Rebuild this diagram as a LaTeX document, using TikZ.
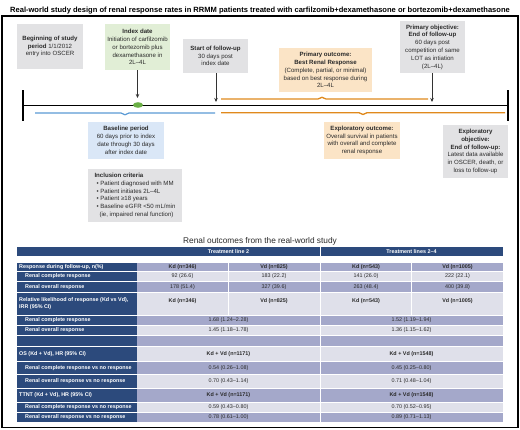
\documentclass[tikz,border=0pt]{standalone}
\usepackage{fontspec}
\setmainfont{Liberation Sans}
\usetikzlibrary{arrows.meta}
\definecolor{boxgray}{HTML}{E2E2E4}
\definecolor{boxgreen}{HTML}{E1EED6}
\definecolor{boxorange}{HTML}{FBE4C6}
\definecolor{boxblue}{HTML}{DAE7F7}
\definecolor{navy}{HTML}{2C4A7C}
\definecolor{tmed}{HTML}{A4A8CA}
\definecolor{tlight}{HTML}{DFE0EA}
\definecolor{lineblue}{HTML}{5B9BD5}
\definecolor{lineorange}{HTML}{E0891C}
\definecolor{ptgreen}{HTML}{6AAF45}
\definecolor{txt}{HTML}{2A2A2A}
\begin{document}
\begin{tikzpicture}[x=1pt,y=-1pt,
  infobox/.style={inner sep=0pt, align=center, text=txt, font=\fontsize{6.1}{7.8}\selectfont},
  arr/.style={-{Stealth[length=4pt,width=3.5pt]}, line width=0.8pt, draw=black!80},
  lbl/.style={anchor=west, inner sep=0pt, text=white, font=\fontsize{5.4}{6.2}\bfseries\selectfont, align=left},
  val/.style={inner sep=0pt, text=txt, font=\fontsize{5.4}{6.2}\selectfont},
  valb/.style={val, font=\fontsize{5.4}{6.2}\bfseries\selectfont},
  hdr/.style={inner sep=0pt, text=white, font=\fontsize{5.4}{6.2}\bfseries\selectfont}]
\useasboundingbox (0,0) rectangle (520,429);
\fill[white] (0,0) rectangle (520,429);
\draw[line width=1.2pt] (2,16) rectangle (518,427.5);
\node[font=\fontsize{7.55}{8.5}\bfseries\selectfont] (title) at (260,10.5) {Real-world study design of renal response rates in RRMM patients treated with carfilzomib+dexamethasone or bortezomib+dexamethasone};

% timeline
\coordinate (tl) at (23,105);
\coordinate (tr) at (508,105);
\draw[line width=1pt] (tl) -- (tr);
\draw[line width=1.2pt] (23,90) -- (23,121);
\draw[line width=1.2pt] (508,90) -- (508,121);
\fill[ptgreen] (138,105) ellipse [x radius=5, y radius=2.8];
\draw[lineblue, line width=1.2pt] (35,113) -- (121,113) -- (125,114.8) -- (129,113) -- (215,113);
\draw[lineorange, line width=1.3pt] (221,99) -- (318,99) -- (322,97.3) -- (326,99) -- (428,99);
\draw[lineorange, line width=1.3pt] (221,112.7) -- (359,112.7) -- (363,114.5) -- (367,112.7) -- (505,112.7);

% top boxes
\node[infobox, fill=boxgray, minimum width=66pt, minimum height=45pt] (begin) at (50,46.5)
 {\textbf{Beginning of study}\\\textbf{period} 1/1/2012\\entry into OSCER};
\node[infobox, fill=boxgreen, minimum width=65pt, minimum height=46pt] (index) at (137.5,47)
 {\textbf{Index date}\\Initiation of carfilzomib\\or bortezomib plus\\dexamethasone in\\2L–4L};
\node[infobox, fill=boxgray, minimum width=65pt, minimum height=34pt] (start) at (215.5,56)
 {\textbf{Start of follow-up}\\30 days post\\index date};
\node[infobox, fill=boxorange, minimum width=93pt, minimum height=44pt] (pout) at (325.5,70)
 {\textbf{Primary outcome:}\\\textbf{Best Renal Response}\\(Complete, partial, or minimal)\\based on best response during\\2L–4L};
\node[infobox, fill=boxgray, minimum width=65pt, minimum height=52pt] (pobj) at (432.5,47)
 {\textbf{Primary objective:}\\\textbf{End of follow-up}\\60 days post\\competition of same\\LOT as intiation\\(2L–4L)};

% bottom boxes
\node[infobox, fill=boxblue, minimum width=76pt, minimum height=37pt] (base) at (126,140.5)
 {\textbf{Baseline period}\\60 days prior to index\\date through 30 days\\after index date};
\node[infobox, fill=boxgray, minimum width=94pt, minimum height=53pt, align=left] (incl) at (135,195.5)
 {\textbf{Inclusion criteria}\\[-0.3pt]
 \hspace*{2pt}• Patient diagnosed with MM\\
 \hspace*{2pt}• Patient initiates 2L–4L\\
 \hspace*{2pt}• Patient ≥18 years\\
 \hspace*{2pt}• Baseline eGFR <50 mL/min\\
 \hspace*{5pt}(ie, impaired renal function)};
\node[infobox, fill=boxorange, minimum width=76pt, minimum height=37pt] (eout) at (362,140.5)
 {\textbf{Exploratory outcome:}\\Overall survival in patients\\with overall and complete\\renal response};
\node[infobox, fill=boxgray, minimum width=65pt, minimum height=53pt] (eobj) at (475.5,151.5)
 {\textbf{Exploratory}\\\textbf{objective:}\\\textbf{End of follow-up:}\\Latest data available\\in OSCER, death, or\\loss to follow-up};

% arrows
\coordinate (aidx) at (137.5,98);
\coordinate (astart) at (216,102);
\coordinate (aobj) at (432,102);
\draw[arr] (index.south) -- (aidx);
\draw[arr] (start.south -| astart) -- (astart);
\draw[arr] (pobj.south -| aobj) -- (aobj);

% table
\node[font=\fontsize{8.3}{9.5}\selectfont, text=txt] (ttitle) at (260,241) {Renal outcomes from the real-world study};
\fill[navy] (17,247) rectangle (136.5,256);
\fill[navy] (137,247) rectangle (319.5,256);
\fill[navy] (320.5,247) rectangle (503,256);
\node[hdr] (h2) at (228.5,251.5) {Treatment line 2};
\node[hdr] (h24) at (411.5,251.5) {Treatment lines 2–4};

% rows with four cells
\foreach \ya/\yb/\c in {262/271.5/tmed, 271.5/281.5/tlight, 281.5/292/tmed, 292/315.5/tlight}{
  \fill[navy] (17,\ya+0.5) rectangle (136.5,\yb-0.5);
  \fill[\c] (137,\ya+0.5) rectangle (227.8,\yb-0.5);
  \fill[\c] (228.8,\ya+0.5) rectangle (319.5,\yb-0.5);
  \fill[\c] (320.5,\ya+0.5) rectangle (411.2,\yb-0.5);
  \fill[\c] (412.2,\ya+0.5) rectangle (503,\yb-0.5);
}
% rows with merged cells
\foreach \ya/\yb/\c in {315.5/325.5/tmed, 325.5/335.5/tlight, 335.5/346/tmed, 346/361.5/tlight, 361.5/374.5/tmed, 374.5/388/tlight, 388/402/tmed, 402/412/tlight, 412/422/tmed}{
  \fill[navy] (17,\ya+0.5) rectangle (136.5,\yb-0.5);
  \fill[\c] (137,\ya+0.5) rectangle (319.5,\yb-0.5);
  \fill[\c] (320.5,\ya+0.5) rectangle (503,\yb-0.5);
}

% row 1
\node[lbl] (r1a) at (19,266.7) {Response during follow-up, n(\%)};
\node[valb] (r1b) at (182.5,266.7) {Kd (n=346)};
\node[valb] (r1c) at (274,266.7) {Vd (n=825)};
\node[valb] (r1d) at (366,266.7) {Kd (n=543)};
\node[valb] (r1e) at (457.5,266.7) {Vd (n=1005)};
% row 2
\node[lbl] (r2a) at (25,276.5) {Renal complete response};
\node[val] (r2b) at (182.5,276.5) {92 (26.6)};
\node[val] (r2c) at (274,276.5) {183 (22.2)};
\node[val] (r2d) at (366,276.5) {141 (26.0)};
\node[val] (r2e) at (457.5,276.5) {222 (22.1)};
% row 3
\node[lbl] (r3a) at (25,286.7) {Renal overall response};
\node[val] (r3b) at (182.5,286.7) {178 (51.4)};
\node[val] (r3c) at (274,286.7) {327 (39.6)};
\node[val] (r3d) at (366,286.7) {263 (48.4)};
\node[val] (r3e) at (457.5,286.7) {400 (39.8)};
% row 4
\node[lbl, anchor=north west] (r4a) at (19,297.8) {Relative likelihood of response (Kd vs Vd),\\IRR (95\% CI)};
\node[valb] (r4b) at (182.5,300.7) {Kd (n=346)};
\node[valb] (r4c) at (274,300.7) {Vd (n=825)};
\node[valb] (r4d) at (366,300.7) {Kd (n=543)};
\node[valb] (r4e) at (457.5,300.7) {Vd (n=1005)};
% row 5
\node[lbl] (r5a) at (25,320.5) {Renal complete response};
\node[val] (r5b) at (228.5,320.5) {1.68 (1.24–2.28)};
\node[val] (r5c) at (411.5,320.5) {1.52 (1.19–1.94)};
% row 6
\node[lbl] (r6a) at (25,330.5) {Renal overall response};
\node[val] (r6b) at (228.5,330.5) {1.45 (1.18–1.78)};
\node[val] (r6c) at (411.5,330.5) {1.36 (1.15–1.62)};
% row 8
\node[lbl] (r8a) at (19,353.8) {OS (Kd + Vd), HR (95\% CI)};
\node[valb] (r8b) at (228.5,353.8) {Kd + Vd (n=1171)};
\node[valb] (r8c) at (411.5,353.8) {Kd + Vd (n=1548)};
% row 9
\node[lbl] (r9a) at (25,368) {Renal complete response vs no response};
\node[val] (r9b) at (228.5,368) {0.54 (0.26–1.08)};
\node[val] (r9c) at (411.5,368) {0.45 (0.25–0.80)};
% row 10
\node[lbl] (r10a) at (25,381.3) {Renal overall response vs no response};
\node[val] (r10b) at (228.5,381.3) {0.70 (0.43–1.14)};
\node[val] (r10c) at (411.5,381.3) {0.71 (0.48–1.04)};
% row 11
\node[lbl] (r11a) at (19,395) {TTNT (Kd + Vd), HR (95\% CI)};
\node[valb] (r11b) at (228.5,395) {Kd + Vd (n=1171)};
\node[valb] (r11c) at (411.5,395) {Kd + Vd (n=1548)};
% row 12
\node[lbl] (r12a) at (25,407) {Renal complete response vs no response};
\node[val] (r12b) at (228.5,407) {0.59 (0.43–0.80)};
\node[val] (r12c) at (411.5,407) {0.70 (0.52–0.95)};
% row 13
\node[lbl] (r13a) at (25,417) {Renal overall response vs no response};
\node[val] (r13b) at (228.5,417) {0.78 (0.61–1.00)};
\node[val] (r13c) at (411.5,417) {0.89 (0.71–1.13)};
\end{tikzpicture}
\end{document}
